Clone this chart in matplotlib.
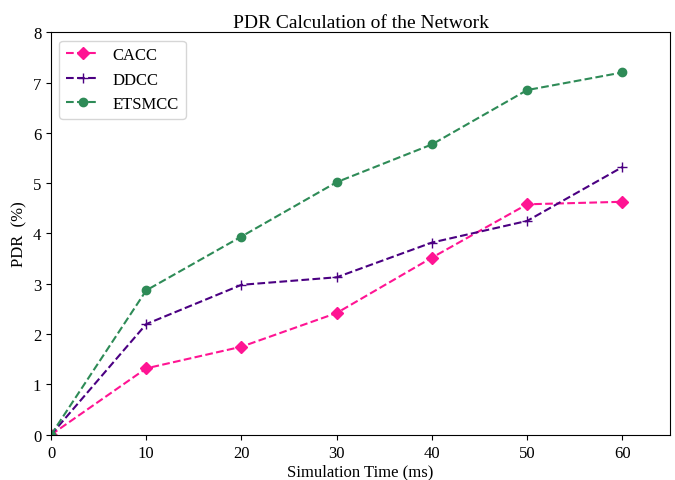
import matplotlib.pyplot as plt

plt.rcParams['font.family'] = ['Liberation Serif', 'DejaVu Serif']

time_ms = [0, 10, 20, 30, 40, 50, 60]
cacc = [0, 1.32, 1.75, 2.42, 3.52, 4.58, 4.63]
ddcc = [0, 2.2, 2.98, 3.13, 3.82, 4.25, 5.32]
etsmcc = [0, 2.87, 3.94, 5.02, 5.77, 6.85, 7.2]

fig = plt.figure(figsize=(6.75, 4.81), dpi=100)
ax = fig.add_axes([0.0756, 0.094, 0.917, 0.837])

ax.plot(time_ms, cacc, '--', color='deeppink', marker='D', markersize=6, label='CACC')
ax.plot(time_ms, ddcc, '--', color='indigo', marker='+', markersize=7, label='DDCC')
ax.plot(time_ms, etsmcc, '--', color='seagreen', marker='o', markersize=6, label='ETSMCC')

ax.set_xlim(0, 65)
ax.set_ylim(0, 8)
ax.set_xticks([0, 10, 20, 30, 40, 50, 60])
ax.tick_params(labelsize=12)
ax.set_xlabel('Simulation Time (ms)', fontsize=12, labelpad=2)
ax.set_ylabel('PDR  (%)', fontsize=12)
ax.set_title('PDR Calculation of the Network', fontsize=14, pad=4)
ax.legend(loc='upper left', fontsize=12)

fig.savefig('out.png')
